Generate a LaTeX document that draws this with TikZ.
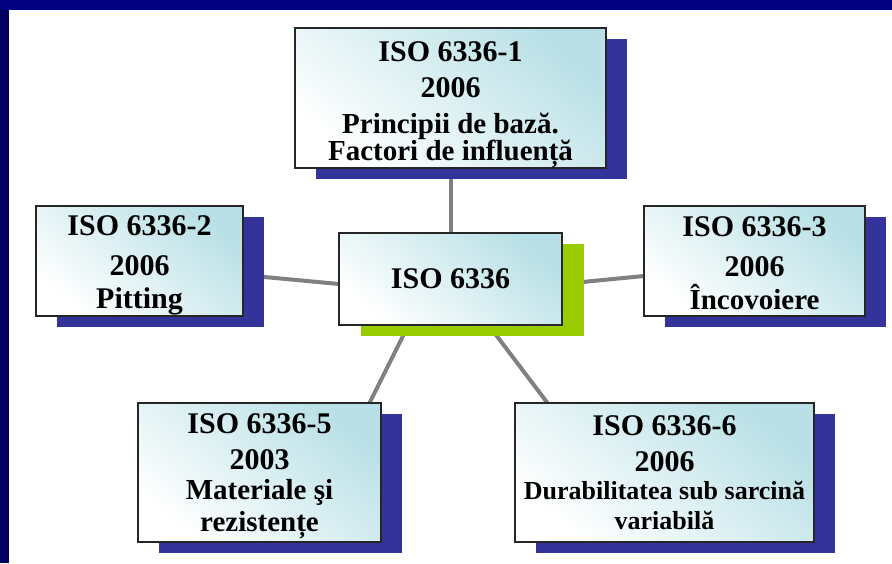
\documentclass[tikz,border=0pt]{standalone}
\usepackage{fontspec}
\setmainfont{Liberation Serif}
\usetikzlibrary{shadows,backgrounds}
\definecolor{framenavy}{RGB}{0,0,128}
\definecolor{framedark}{RGB}{0,0,96}
\definecolor{shadowblue}{RGB}{51,51,153}
\definecolor{shadowgreen}{RGB}{153,204,0}
\definecolor{boxcyan}{RGB}{184,224,230}
\definecolor{linkgray}{RGB}{128,128,128}
\newcommand\isotitle{\fontsize{30}{36}\selectfont\bfseries}
\newcommand\isosub{\fontsize{29}{32}\selectfont}
\tikzset{
  isobox/.style={draw=black!85, line width=1.5pt, top color=boxcyan, bottom color=white,
    shading angle=-40, align=center, inner sep=0pt, outer sep=0pt, font=\isotitle},
  blueshadow/.style={general shadow={fill=shadowblue, shadow xshift=21pt, shadow yshift=-11pt}},
  greenshadow/.style={general shadow={fill=shadowgreen, shadow xshift=22pt, shadow yshift=-11pt}},
  link/.style={draw=linkgray, line width=4pt},
}
\begin{document}
\begin{tikzpicture}[x=1pt,y=-1pt]
	\useasboundingbox (0,0) rectangle (892,563);
	\begin{scope}[on background layer]
		\fill[framenavy] (0,0) rectangle (892,563);
		\fill[framedark] (0,10) rectangle (9,563);
		\fill[white] (9,10) rectangle (892,563);
	\end{scope}

	\node[isobox, greenshadow, minimum width=223pt, minimum height=92pt] (hub) at (450.5,279) {ISO 6336};

	\node[isobox, blueshadow, minimum width=311pt, minimum height=138pt] (std1) at (450.5,98)
		{\rule{0pt}{34pt}ISO 6336-1\\2006\\{\isosub Principii de bază.}\\[-9pt]{\isosub Factori de influență}};
	\node[isobox, blueshadow, minimum width=207pt, minimum height=110pt] (std2) at (139.5,261)
		{\rule{0pt}{28pt}ISO 6336-2\\[4pt]2006\\[-3pt]{\fontsize{30}{32}\selectfont Pitting}};
	\node[isobox, blueshadow, minimum width=221pt, minimum height=110pt] (std3) at (754.5,261)
		{\rule{0pt}{24pt}ISO 6336-3\\[4pt]2006\\[-3pt]{\isosub Încovoiere}};
	\node[isobox, blueshadow, minimum width=243pt, minimum height=139pt] (std5) at (259.5,472.5)
		{\rule{0pt}{28pt}ISO 6336-5\\2003\\[-6pt]{\isosub Materiale şi}\\[-4pt]{\isosub rezistențe}};
	\node[isobox, blueshadow, minimum width=299pt, minimum height=139pt] (std6) at (664.5,472.5)
		{ISO 6336-6\\2006\\[-8pt]{\fontsize{26}{30}\selectfont Durabilitatea sub sarcină}\\[-6pt]{\fontsize{26}{30}\selectfont variabilă}};

	\begin{scope}[on background layer]
		\draw[link] (std1.south) -- (hub.north);
		\draw[link] ([yshift=-14pt]std2.east) -- ([yshift=-5pt]hub.west);
		\draw[link] ([yshift=-5pt]hub.east) -- ([yshift=-15pt]std3.west);
		\draw[link] ([xshift=-42pt]hub.south) -- ([xshift=110pt]std5.north);
		\draw[link] ([xshift=38pt]hub.south) -- ([xshift=-117pt]std6.north);
	\end{scope}
\end{tikzpicture}
\end{document}
